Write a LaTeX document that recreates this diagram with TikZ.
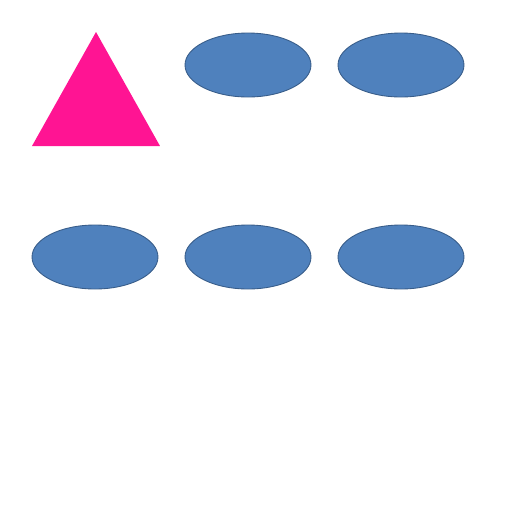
\documentclass[tikz,border=0pt]{standalone}
\usetikzlibrary{shapes.geometric}

\definecolor{blobfill}{HTML}{4F81BD}
\definecolor{blobline}{HTML}{385D8A}
\definecolor{tripink}{HTML}{FF1493}

\tikzset{
  blob/.style={ellipse, draw=blobline, fill=blobfill, line width=0.5pt,
    inner sep=0pt, minimum width=2.52cm, minimum height=1.28cm}
}

\begin{document}
\begin{tikzpicture}[x=0.02cm, y=-0.02cm]
    \useasboundingbox[fill=white] (0,0) rectangle (512,512);

    \fill[tripink] (96,32) -- (160,146) -- (32,146) -- cycle;

    \foreach \name/\x/\y in {ta/248/65, tb/401/65, ba/95/257, bb/248/257, bc/401/257}
      \node[blob] (\name) at (\x,\y) {};
  \end{tikzpicture}
\end{document}
